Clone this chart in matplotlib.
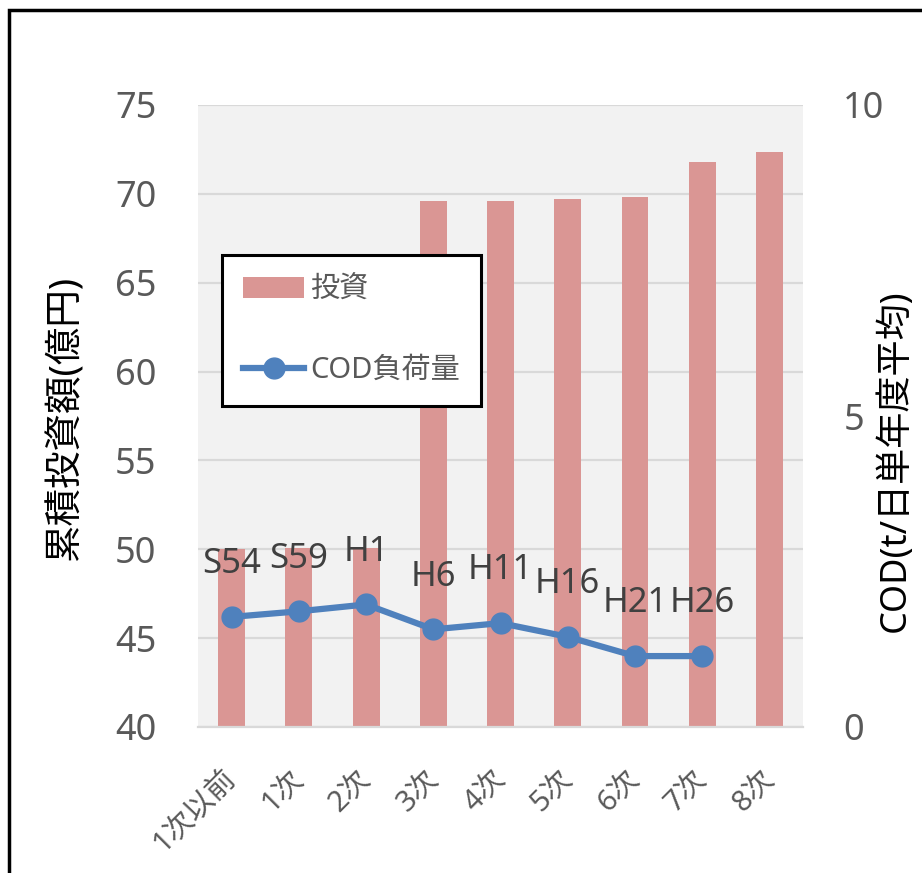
import numpy as np
import matplotlib
matplotlib.use("Agg")
import matplotlib.pyplot as plt
from matplotlib.patches import Rectangle
from matplotlib.transforms import ScaledTranslation

plt.rcParams['font.family'] = ['Noto Sans', 'Noto Sans CJK JP', 'DejaVu Sans']

# --- data ---
categories = ['1次以前', '1次', '2次', '3次', '4次', '5次', '6次', '7次', '8次']
investment = [50.0, 50.05, 50.1, 69.6, 69.6, 69.7, 69.8, 71.8, 72.35]   # 億円 (cumulative)
cod_load = [1.77, 1.86, 1.97, 1.57, 1.67, 1.45, 1.14, 1.14]              # t/日 (annual mean)
cod_labels = ['S54', 'S59', 'H1', 'H6', 'H11', 'H16', 'H21', 'H26']

bar_color = '#da9694'
line_color = '#4f81bd'
tick_color = '#595959'

W, H = 922, 873
fig = plt.figure(figsize=(W / 100, H / 100), dpi=100)
ax = fig.add_axes([198 / W, 1 - 727 / H, 605 / W, 622 / H])
ax.set_facecolor('#f2f2f2')

x = np.arange(len(categories))
bars = ax.bar(x, investment, width=0.4, color=bar_color, zorder=2, label='投資')
ax.set_xlim(-0.5, len(categories) - 0.5)
ax.set_ylim(40, 75)
ax.set_yticks(range(40, 76, 5))
ax.grid(axis='y', color='#d9d9d9', lw=1.6, zorder=1)
ax.set_axisbelow(True)
for s in ('left', 'right', 'top'):
    ax.spines[s].set_visible(False)
ax.spines['bottom'].set_color('#d9d9d9')
ax.spines['bottom'].set_linewidth(1.6)
ax.tick_params(length=0)
ax.tick_params(axis='y', labelsize=26, labelcolor=tick_color, pad=30)
ax.set_xticks(x)
ax.set_xticklabels(categories, rotation=45, ha='right', va='top',
                   rotation_mode='anchor', fontsize=21, color=tick_color)
ax.tick_params(axis='x', pad=27)
shift = ScaledTranslation(-0.1, 0, fig.dpi_scale_trans)
for lbl in ax.get_xticklabels():
    lbl.set_transform(lbl.get_transform() + shift)

ax2 = ax.twinx()
ax2.set_ylim(0, 10)
ax2.set_yticks([0, 5, 10])
for s in ax2.spines.values():
    s.set_visible(False)
ax2.tick_params(length=0, labelsize=26, labelcolor=tick_color, pad=29)
line, = ax2.plot(x[:len(cod_load)], cod_load, color=line_color, lw=4.5,
                 marker='o', ms=15, zorder=3, label='COD負荷量')
for xi, v, t in zip(x, cod_load, cod_labels):
    ax2.annotate(t, (xi, v), xytext=(0, 38), textcoords='offset points',
                 ha='center', va='center', fontsize=25, color='#404040')

leg = ax2.legend(handles=[bars, line], loc='upper left',
                 bbox_to_anchor=(0.0397, 0.759), borderaxespad=0,
                 fontsize=21, frameon=True, fancybox=False, edgecolor='black',
                 framealpha=1, labelspacing=1.75, handlelength=2.1,
                 borderpad=0.72, handletextpad=0.2, labelcolor=tick_color)
leg.get_frame().set_linewidth(2.2)

fig.text(65 / W, 1 - 418 / H, '累積投資額(億円)', rotation=90,
         ha='center', va='center', fontsize=27, color='black')
fig.text(895 / W, 1 - 461 / H, 'COD(t/日単年度平均)', rotation=90,
         ha='center', va='center', fontsize=26, color='black')

fig.patches.append(Rectangle((9 / W, -0.5), 2, 1.5 - 10 / H, transform=fig.transFigure,
                             fill=False, ec='black', lw=2.5))

fig.savefig('out.png', dpi=100)
